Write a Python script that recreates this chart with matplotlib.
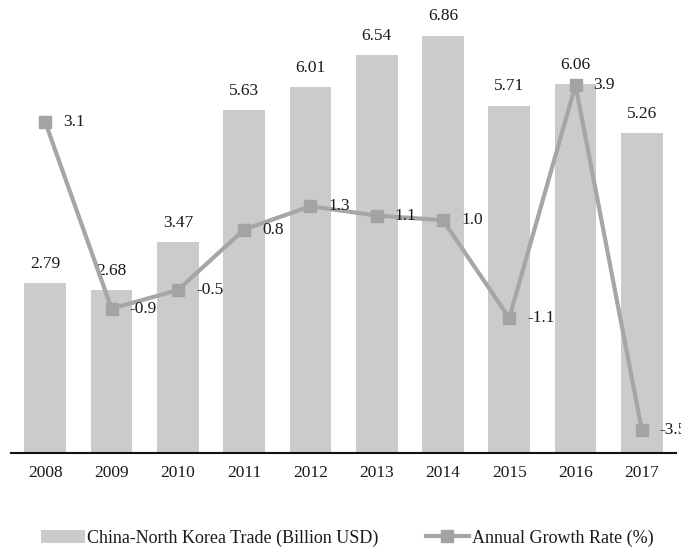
import matplotlib.pyplot as plt

plt.rcParams['font.family'] = ['Liberation Serif', 'DejaVu Serif']

years = ['2008', '2009', '2010', '2011', '2012', '2013', '2014', '2015', '2016', '2017']
trade = [2.79, 2.68, 3.47, 5.63, 6.01, 6.54, 6.86, 5.71, 6.06, 5.26]
growth = [3.1, -0.9, -0.5, 0.8, 1.3, 1.1, 1.0, -1.1, 3.9, -3.5]

bar_color = '#cbcbcb'
line_color = '#a6a6a6'
text_color = '#1a1a1a'

fig = plt.figure(figsize=(6.81, 5.48), dpi=100)
ax1 = fig.add_axes([0.016, 0.1734, 0.977, 0.7773])
ax2 = ax1.twinx()

x = list(range(len(years)))
bars = ax1.bar(x, trade, width=0.63, color=bar_color,
               label='China-North Korea Trade (Billion USD)')
for xi, v in zip(x, trade):
    ax1.annotate(f'{v:.2f}', (xi, v), xytext=(0, 8), textcoords='offset points',
                 ha='center', va='bottom', fontsize=12.5, color=text_color)

line, = ax2.plot(x, growth, color=line_color, lw=3, marker='s', markersize=9,
                 markerfacecolor='#a3a3a3', markeredgecolor='#a3a3a3',
                 label='Annual Growth Rate (%)')
for xi, v in zip(x, growth):
    ax2.annotate(f'{v:.1f}', (xi, v), xytext=(13, 0), textcoords='offset points',
                 ha='left', va='center', fontsize=12.5, color=text_color,
                 annotation_clip=False)

ax1.set_xlim(-0.52, 9.52)
ax1.set_ylim(0, 7)
ax2.set_ylim(-4, 5.15)

for ax in (ax1, ax2):
    for s in ('top', 'left', 'right'):
        ax.spines[s].set_visible(False)
    ax.set_yticks([])
ax2.spines['bottom'].set_visible(False)
ax1.spines['bottom'].set_linewidth(1.5)
ax1.spines['bottom'].set_color('#111111')
ax1.set_xticks(x)
ax1.set_xticklabels(years, fontsize=12.5, color=text_color)
ax1.tick_params(axis='x', length=0, pad=9)

fig.legend([bars, line], [bars.get_label(), line.get_label()],
           loc='center', bbox_to_anchor=(0.51, 0.018), ncol=2, frameon=False,
           fontsize=13, handlelength=2.4, columnspacing=2.6, handletextpad=0.15,
           labelcolor=text_color)

fig.savefig('out.png', dpi=100)
